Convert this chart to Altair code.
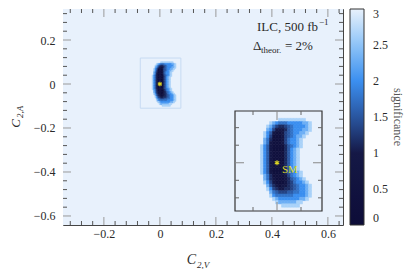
import altair as alt
import pandas as pd

# ---------------- data ----------------
X_DOMAIN = [-0.346, 0.654]          # C_{2,V}
Y_DOMAIN = [-0.641, 0.341]          # C_{2,A}
INSET_X = [-0.07, 0.075]            # zoomed region (C_{2,V})
INSET_Y = [-0.11, 0.118]            # zoomed region (C_{2,A})

# significance grid around the SM point
GRID_X0 = -0.025   # first column centre
GRID_DX = 0.005
GRID_Y0 = 0.0975   # first row centre
GRID_DY = 0.0075
LEVELS = [0.4, 0.9, 1.15, 1.35, 1.55, 1.75, 2.0, 2.3, 2.65, 3.0]
ROWS = [
    "9999998888888889999",
    "9998765556666677899",
    "9987532234566667899",
    "9976311124566677899",
    "9864100134566778999",
    "9863000134567789999",
    "9752000135667899999",
    "9751000135667899999",
    "8641000024567899999",
    "8641000024678999999",
    "8641000024678999999",
    "8641000024678999999",
    "8641000024678999999",
    "8641000024678999999",
    "8641000024678999999",
    "8641000024678999999",
    "8641000024567899999",
    "9752000013567899999",
    "9752100012456789999",
    "9863100012356678999",
    "9974210112345667899",
    "9986321122345667899",
    "9997543334455667899",
    "9998655555566667899",
    "9999876666666778999",
    "9999987777778899999",
    "9999999888888999999",
]
BACKGROUND_SIG = 3.0
SM_X = [0.0]
SM_Y = [0.0]

X_MAJOR = [-0.2, 0.0, 0.2, 0.4, 0.6]
X_MINOR = [-0.32, -0.28, -0.24, -0.16, -0.12, -0.08, -0.04, 0.04, 0.08, 0.12,
           0.16, 0.24, 0.28, 0.32, 0.36, 0.44, 0.48, 0.52, 0.56, 0.64]
Y_MAJOR = [-0.6, -0.4, -0.2, 0.0, 0.2]
Y_MINOR = [-0.56, -0.52, -0.48, -0.44, -0.36, -0.32, -0.28, -0.24, -0.16, -0.12,
           -0.08, -0.04, 0.04, 0.08, 0.12, 0.16, 0.24, 0.28, 0.32]
INSET_X_MAJOR = [0.0]
INSET_X_MINOR = [-0.04, 0.04]
INSET_Y_MAJOR = [0.0]
INSET_Y_MINOR = [-0.08, -0.04, 0.04, 0.08]
SIG_TICKS = [0, 0.5, 1, 1.5, 2, 2.5, 3]

COLOR_DOMAIN = [0, 1, 1.5, 2, 2.5, 3]
COLOR_RANGE = ["#0d0d38", "#151846", "#2a56a0", "#3b8ff0", "#8ec4f8", "#e8f1fc"]

# ---------------- layout / style ----------------
W, H = 280, 216
IX0, IX1, IY0, IY1 = 172, 259, 102, 202   # inset box in plot pixels
FONT = "Liberation Serif"
TXT = "#2a2a2a"
YELLOW = "#ddd624"
ASTERISK = "M0,-1L0,1M-0.87,-0.5L0.87,0.5M-0.87,0.5L0.87,-0.5"

# ---------------- tables ----------------
recs = []
for i, row in enumerate(ROWS):
    for j, ch in enumerate(row):
        if ch == "9":
            continue
        cx = GRID_X0 + j * GRID_DX
        cy = GRID_Y0 - i * GRID_DY
        recs.append(dict(x=cx - GRID_DX / 2, x2=cx + GRID_DX / 2,
                         y=cy - GRID_DY / 2, y2=cy + GRID_DY / 2,
                         sig=LEVELS[int(ch)]))
cells = pd.DataFrame(recs)
bg_df = pd.DataFrame(dict(x=[X_DOMAIN[0]], x2=[X_DOMAIN[1]], y=[Y_DOMAIN[0]],
                          y2=[Y_DOMAIN[1]], sig=[BACKGROUND_SIG]))
inset_df = pd.DataFrame(dict(x=[INSET_X[0]], x2=[INSET_X[1]], y=[INSET_Y[0]],
                             y2=[INSET_Y[1]], sig=[BACKGROUND_SIG]))
sm_df = pd.DataFrame(dict(x=SM_X, y=SM_Y, t=["SM"]))

xs = alt.Scale(domain=X_DOMAIN, nice=False, zero=False)
ys = alt.Scale(domain=Y_DOMAIN, nice=False, zero=False)
ixs = alt.Scale(domain=INSET_X, range=[IX0, IX1], nice=False, zero=False)
iys = alt.Scale(domain=INSET_Y, range=[IY1, IY0], nice=False, zero=False)
cscale = alt.Scale(domain=COLOR_DOMAIN, range=COLOR_RANGE, interpolate="rgb")

x_axis = alt.Axis(values=X_MAJOR, format=".1~f", title=None, domain=False, ticks=False,
                  grid=False, labelFont=FONT, labelFontSize=12, labelColor=TXT,
                  labelPadding=3, labelFlush=False)
y_axis = alt.Axis(values=Y_MAJOR, format=".1~f", title=None, domain=False, ticks=False,
                  grid=False, labelFont=FONT, labelFontSize=12, labelColor=TXT,
                  labelPadding=8, labelFlush=False)

legend = alt.Legend(type="gradient", title=None, orient="right", offset=7, padding=0,
                    direction="vertical", gradientLength=H, gradientThickness=14,
                    gradientStrokeColor="#333", gradientStrokeWidth=1, values=SIG_TICKS,
                    format=".1~f", labelFont=FONT, labelFontSize=12, labelColor=TXT,
                    labelOffset=9, labelOverlap=False)

def X(field="x", inset=False):
    if inset:
        return alt.X(f"{field}:Q", scale=ixs, axis=None)
    return alt.X(f"{field}:Q", scale=xs, axis=x_axis)

def Y(field="y", inset=False):
    if inset:
        return alt.Y(f"{field}:Q", scale=iys, axis=None)
    return alt.Y(f"{field}:Q", scale=ys, axis=y_axis)

def text(t, x, y, size=12, align="left", angle=0, style="normal", color=TXT):
    return alt.Chart(pd.DataFrame({"t": [t]})).mark_text(
        align=align, baseline="alphabetic", fontSize=size, font=FONT,
        fontStyle=style, color=color, angle=angle
    ).encode(x=alt.value(x), y=alt.value(y), text="t:N")

def xticks(values, length, color, inset=False):
    top = IY0 if inset else 0
    bot = IY1 if inset else H
    d = pd.DataFrame({"v": values})
    base = alt.Chart(d).mark_rule(color=color, strokeWidth=1)
    return (base.encode(x=X("v", inset), y=alt.value(bot), y2=alt.value(bot - length)) +
            base.encode(x=X("v", inset), y=alt.value(top), y2=alt.value(top + length)))

def yticks(values, length, color, inset=False):
    left = IX0 if inset else 0
    right = IX1 if inset else W
    d = pd.DataFrame({"v": values})
    base = alt.Chart(d).mark_rule(color=color, strokeWidth=1)
    return (base.encode(y=Y("v", inset), x=alt.value(left), x2=alt.value(left + length)) +
            base.encode(y=Y("v", inset), x=alt.value(right), x2=alt.value(right - length)))

def heat(df, inset=False, with_legend=False, seamless=False):
    mark = (alt.Chart(df).mark_rect(stroke=alt.ExprRef("scale('color', datum.sig)"),
                                    strokeWidth=0.6)
            if seamless else alt.Chart(df).mark_rect())
    return mark.encode(
        x=X("x", inset), x2="x2", y=Y("y", inset), y2="y2",
        color=alt.Color("sig:Q", scale=cscale, legend=legend if with_legend else None),
    )

# ---------------- main panel ----------------
bg = heat(bg_df, with_legend=True)
main_cells = heat(cells, seamless=True)
box = alt.Chart(inset_df).mark_rect(fillOpacity=0, stroke="#c6daf2", strokeWidth=1).encode(
    x=X("x"), x2="x2", y=Y("y"), y2="y2")
star = alt.Chart(sm_df).mark_point(shape=ASTERISK, filled=False, size=22, strokeWidth=1.1,
                                   stroke=YELLOW, opacity=1).encode(x=X("x"), y=Y("y"))

main = alt.layer(
    bg, main_cells, box, star,
    xticks(X_MINOR, 4, "#555"), xticks(X_MAJOR, 8, "#9a9a9a"),
    yticks(Y_MINOR, 4, "#555"), yticks(Y_MAJOR, 8, "#9a9a9a"),
    # annotation
    text("ILC, 500 fb", 255, 22, size=13, align="right"),
    text("\u22121", 256, 16, size=9),
    text("\u0394", 190, 41, size=13),
    text("theor.", 198, 44, size=9),
    text("= 2%", 222, 41, size=13),
    # axis titles
    text("C", 133, 255, size=14, align="right", style="italic"),
    text("2,V", 134, 259, size=9, style="italic"),
    text("C", -43, 110, size=13, align="right", angle=270, style="italic"),
    text("2,A", -40, 109, size=9, angle=270, style="italic"),
    # colourbar label
    alt.Chart(pd.DataFrame({"t": ["significance"]})).mark_text(
        align="center", baseline="middle", fontSize=12, font=FONT, color="#555", angle=90
    ).encode(x=alt.value(335), y=alt.value(H / 2), text="t:N"),
)

# ---------------- inset ----------------
inset_bg = heat(inset_df, inset=True)
inset_cells = heat(cells, inset=True, seamless=True)
inset_frame = alt.Chart(inset_df).mark_rect(fillOpacity=0, stroke="#333", strokeWidth=1.2).encode(
    x=X("x", True), x2="x2", y=Y("y", True), y2="y2")
inset_star = alt.Chart(sm_df).mark_point(shape=ASTERISK, filled=False, size=26, strokeWidth=1.1,
                                         stroke=YELLOW, opacity=1).encode(x=X("x", True), y=Y("y", True))
sm_label = alt.Chart(sm_df).mark_text(align="left", baseline="middle", dx=5, dy=7, fontSize=11,
                                      font=FONT, color=YELLOW).encode(
    x=X("x", True), y=Y("y", True), text="t:N")

inset = alt.layer(
    inset_bg, inset_cells, inset_frame,
    xticks(INSET_X_MINOR, 4, "#666", True), xticks(INSET_X_MAJOR, 9, "#888", True),
    yticks(INSET_Y_MINOR, 4, "#666", True), yticks(INSET_Y_MAJOR, 9, "#888", True),
    inset_star, sm_label,
)

chart = alt.layer(main, inset).resolve_scale(
    x="independent", y="independent"
).properties(
    width=W, height=H,
    padding={"left": 55, "top": 1, "right": 64, "bottom": 44},
    autosize=alt.AutoSizeParams(type="none"),
).configure_view(stroke="#444", strokeWidth=1)

chart.save("out.html", embed_options={"renderer": "svg", "actions": False})
